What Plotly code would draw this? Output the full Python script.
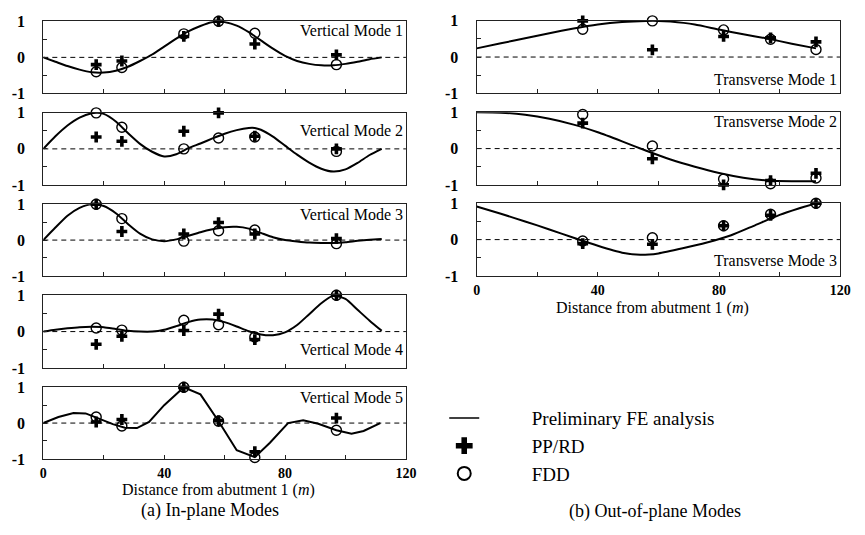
import plotly.graph_objects as go

W, H = 865, 535

# ---------------- data ----------------
x_in = [17.5, 26, 46.5, 58, 70, 97]          # in-plane sensor positions (m)
x_out = [35, 58, 81.5, 97, 112]              # out-of-plane sensor positions (m)

grid29 = [0, 4, 8, 12, 16, 20, 24, 28, 32, 36, 40, 44, 48, 52, 56, 60, 64, 68,
          72, 76, 80, 84, 88, 92, 96, 100, 104, 108, 112]

v1_fx = [0, 4, 8, 12, 16, 20, 24, 28, 32, 36, 40, 44, 48, 52, 56, 58, 60, 64, 68,
         72, 76, 80, 84, 88, 92, 96, 100, 104, 108, 112]
v1_fy = [0, -0.12, -0.24, -0.34, -0.41, -0.42, -0.37, -0.26, -0.10, 0.08,
         0.30, 0.52, 0.72, 0.87, 0.98, 1.0, 0.98, 0.88, 0.70, 0.47,
         0.24, 0.04, -0.10, -0.18, -0.22, -0.22, -0.18, -0.12, -0.05, 0.0]
v1_pp = [-0.2, -0.1, 0.58, 1.0, 0.37, 0.07]
v1_fdd = [-0.4, -0.28, 0.65, 1.0, 0.67, -0.2]

v2_fx = [0, 4, 8, 12, 16, 18, 20, 24, 28, 32, 36, 40, 44, 48, 52, 56, 60, 64, 68,
         70, 72, 76, 80, 84, 88, 92, 96, 100, 104, 108, 112]
v2_fy = [0, 0.35, 0.65, 0.87, 0.99, 1.0, 0.97, 0.76, 0.44, 0.14,
         -0.08, -0.21, -0.15, 0.02, 0.15, 0.29, 0.42, 0.52, 0.58, 0.58,
         0.53, 0.34, 0.09, -0.16, -0.38, -0.55, -0.63, -0.57, -0.39, -0.17, 0.0]
v2_pp = [0.33, 0.21, 0.49, 1.0, 0.35, 0.0]
v2_fdd = [1.0, 0.6, 0.0, 0.3, 0.33, -0.07]

v3_fx = grid29
v3_fy = [0, 0.35, 0.68, 0.9, 1.0, 0.95, 0.75, 0.45, 0.18, 0.02,
         -0.03, 0.02, 0.12, 0.22, 0.30, 0.36, 0.37, 0.32, 0.20, 0.08,
         0.0, -0.04, -0.07, -0.08, -0.08, -0.06, -0.02, 0.01, 0.03]
v3_pp = [1.0, 0.24, 0.17, 0.49, 0.17, 0.04]
v3_fdd = [1.0, 0.6, -0.03, 0.26, 0.28, -0.1]

v4_fx = grid29
v4_fy = [0, 0.05, 0.09, 0.12, 0.13, 0.12, 0.07, 0.02, 0.0, 0.0,
         0.05, 0.15, 0.26, 0.33, 0.33, 0.26, 0.14, 0.01, -0.08, -0.10,
         -0.02, 0.18, 0.48, 0.78, 0.99, 0.90, 0.60, 0.30, 0.02]
v4_pp = [-0.35, -0.13, 0.03, 0.48, -0.22, 1.0]
v4_fdd = [0.1, 0.04, 0.31, 0.19, -0.15, 1.0]

v5_fx = [0, 5, 10, 14, 18, 23, 27, 31, 35, 40, 46.5, 52, 58, 64, 70, 75, 81,
         86, 91, 97, 102, 106, 111.5]
v5_fy = [0, 0.17, 0.28, 0.27, 0.14, -0.03, -0.13, -0.14, 0.03, 0.5, 1.0, 0.8,
         0.05, -0.76, -0.95, -0.55, 0.0, 0.08, -0.02, -0.2, -0.3, -0.22, 0.0]
v5_pp = [0.03, 0.1, 1.0, 0.07, -0.8, 0.14]
v5_fdd = [0.17, -0.08, 1.0, 0.05, -0.96, -0.2]

t1_fx = [0, 8, 16, 24, 32, 40, 48, 56, 60, 64, 72, 80, 88, 96, 104, 112]
t1_fy = [0.24, 0.38, 0.52, 0.66, 0.79, 0.9, 0.97, 1.0, 1.0, 0.98, 0.9, 0.76,
         0.63, 0.51, 0.37, 0.24]
t1_pp = [1.0, 0.2, 0.57, 0.53, 0.42]
t1_fdd = [0.77, 1.0, 0.75, 0.49, 0.21]

t2_fx = [0, 8, 16, 24, 32, 40, 48, 56, 64, 72, 80, 88, 96, 104, 112]
t2_fy = [1.0, 0.99, 0.93, 0.82, 0.66, 0.45, 0.2, -0.06, -0.3, -0.5, -0.67,
         -0.8, -0.88, -0.9, -0.9]
t2_pp = [0.7, -0.28, -1.0, -0.88, -0.68]
t2_fdd = [0.94, 0.07, -0.84, -0.97, -0.81]

t3_fx = [0, 8, 16, 24, 32, 40, 48, 54, 60, 68, 76, 84, 92, 100, 106, 112]
t3_fy = [0.91, 0.71, 0.5, 0.28, 0.05, -0.17, -0.36, -0.42, -0.38, -0.24,
         -0.08, 0.12, 0.4, 0.68, 0.85, 1.0]
t3_pp = [-0.11, -0.13, 0.38, 0.67, 1.0]
t3_fdd = [-0.04, 0.05, 0.38, 0.7, 1.0]

x_tickvals = [0, 20, 40, 60, 80, 100, 120]
x_ticktext = ["0", "", "40", "", "80", "", "120"]
y_tickvals = [-1, -0.5, 0, 0.5, 1]
y_ticktext = ["-1", "", "0", "", "1"]

legend_labels = ["Preliminary FE analysis", "PP/RD", "FDD"]

# ---------------- layout geometry (pixels) ----------------
def px_x(p):
    return p / W

def px_y(p):
    return 1 - p / H

left_x = [px_x(40), px_x(409)]
right_x = [px_x(481), px_x(851)]

panels = [
    ("Vertical Mode 1", x_in, v1_fx, v1_fy, v1_pp, v1_fdd, left_x, 13.7, 88.3, 0.87, False, "spline"),
    ("Vertical Mode 2", x_in, v2_fx, v2_fy, v2_pp, v2_fdd, left_x, 108.3, 182.7, 0.75, False, "spline"),
    ("Vertical Mode 3", x_in, v3_fx, v3_fy, v3_pp, v3_fdd, left_x, 202.7, 276.7, 0.86, False, "spline"),
    ("Vertical Mode 4", x_in, v4_fx, v4_fy, v4_pp, v4_fdd, left_x, 296.7, 371.7, 0.25, False, "spline"),
    ("Vertical Mode 5", x_in, v5_fx, v5_fy, v5_pp, v5_fdd, left_x, 391.7, 465.7, 0.86, True, "linear"),
    ("Transverse Mode 1", x_out, t1_fx, t1_fy, t1_pp, t1_fdd, right_x, 13.3, 88.0, 0.19, False, "spline"),
    ("Transverse Mode 2", x_out, t2_fx, t2_fy, t2_pp, t2_fdd, right_x, 107.7, 182.7, 0.876, False, "spline"),
    ("Transverse Mode 3", x_out, t3_fx, t3_fy, t3_pp, t3_fdd, right_x, 201.7, 276.7, 0.21, True, "spline"),
]

FONT = "Liberation Serif, Times New Roman, Times, serif"
AXC = "#222222"

fig = go.Figure()
layout = dict(
    width=W, height=H, margin=dict(l=0, r=0, t=0, b=0),
    paper_bgcolor="white", plot_bgcolor="white",
    font=dict(family=FONT, color="black"),
    showlegend=True,
)
annotations = []
shapes = []

for i, (label, xs, fx, fy, pp, fdd, xdom, ytop, ybot, lf, bottom, shp) in enumerate(panels, start=1):
    xa = "x" if i == 1 else f"x{i}"
    ya = "y" if i == 1 else f"y{i}"
    fig.add_trace(go.Scatter(x=fx, y=fy, mode="lines", xaxis=xa, yaxis=ya,
                             line=dict(color="black", width=2, shape=shp, smoothing=0.6),
                             showlegend=False, hoverinfo="skip"))
    fig.add_trace(go.Scatter(x=xs, y=pp, mode="markers", xaxis=xa, yaxis=ya,
                             marker=dict(symbol="cross", size=9, color="black"),
                             cliponaxis=False, showlegend=False))
    fig.add_trace(go.Scatter(x=xs, y=fdd, mode="markers", xaxis=xa, yaxis=ya,
                             marker=dict(symbol="circle-open", size=10, color="black",
                                         line=dict(width=1.4, color="black")),
                             cliponaxis=False, showlegend=False))
    xkey = "xaxis" if i == 1 else f"xaxis{i}"
    ykey = "yaxis" if i == 1 else f"yaxis{i}"
    layout[xkey] = dict(
        domain=xdom, anchor=ya, range=[0, 120],
        tickmode="array", tickvals=x_tickvals,
        ticktext=x_ticktext if bottom else [""] * len(x_tickvals),
        ticks="inside", ticklen=4, tickcolor=AXC, tickwidth=1,
        showline=True, linecolor=AXC, linewidth=1.3, mirror=True,
        showgrid=False, zeroline=False,
        tickfont=dict(family=FONT, size=14, color="black", weight="bold"),
        ticklabelstandoff=1,
    )
    layout[ykey] = dict(
        domain=[px_y(ybot), px_y(ytop)], anchor=xa, range=[-1, 1],
        tickmode="array", tickvals=y_tickvals, ticktext=y_ticktext,
        ticks="inside", ticklen=4, tickcolor=AXC, tickwidth=1,
        showline=True, linecolor=AXC, linewidth=1.3, mirror=True,
        showgrid=False, zeroline=False,
        tickfont=dict(family=FONT, size=16, color="black", weight="bold"),
        ticklabelstandoff=14,
    )
    shapes.append(dict(type="line", xref=f"{xa} domain", yref=ya, x0=0, x1=1, y0=0, y1=0,
                       line=dict(color="black", width=1, dash="5px,4px"), layer="below"))
    annotations.append(dict(text=label, xref=f"{xa} domain", yref=f"{ya} domain",
                            x=1, y=lf, xanchor="right", yanchor="middle", showarrow=False,
                            xshift=-1, font=dict(family=FONT, size=16, color="black")))

# legend-only entries
NB = "\u00a0" * 10
fig.add_trace(go.Scatter(x=[None], y=[None], mode="lines", name=NB + legend_labels[0],
                         line=dict(color="black", width=1.5)))
fig.add_trace(go.Scatter(x=[None], y=[None], mode="markers", name=NB + legend_labels[1],
                         marker=dict(symbol="cross", size=14, color="black")))
fig.add_trace(go.Scatter(x=[None], y=[None], mode="markers", name=NB + legend_labels[2],
                         marker=dict(symbol="circle-open", size=13, color="black",
                                     line=dict(width=2, color="black"))))

layout["legend"] = dict(x=px_x(448), y=px_y(404), xanchor="left", yanchor="top",
                        font=dict(family=FONT, size=19, color="black"),
                        itemwidth=30, bgcolor="rgba(0,0,0,0)", tracegroupgap=0)

# axis titles and captions
annotations += [
    dict(text="Distance from abutment 1 (<i>m</i>)", xref="paper", yref="paper",
         x=px_x(218), y=px_y(497.5), xanchor="center", yanchor="middle", showarrow=False,
         font=dict(family=FONT, size=16, color="black")),
    dict(text="Distance from abutment 1 (<i>m</i>)", xref="paper", yref="paper",
         x=px_x(660), y=px_y(309.5), xanchor="center", yanchor="middle", showarrow=False,
         font=dict(family=FONT, size=16, color="black")),
    dict(text="(a) In-plane Modes", xref="paper", yref="paper",
         x=px_x(210), y=px_y(518.5), xanchor="center", yanchor="middle", showarrow=False,
         font=dict(family=FONT, size=18, color="black")),
    dict(text="(b) Out-of-plane Modes", xref="paper", yref="paper",
         x=px_x(662), y=px_y(520), xanchor="center", yanchor="middle", showarrow=False,
         font=dict(family=FONT, size=18, color="black")),
]
layout["annotations"] = annotations
layout["shapes"] = shapes
fig.update_layout(**layout)

fig.write_html("out.html")
